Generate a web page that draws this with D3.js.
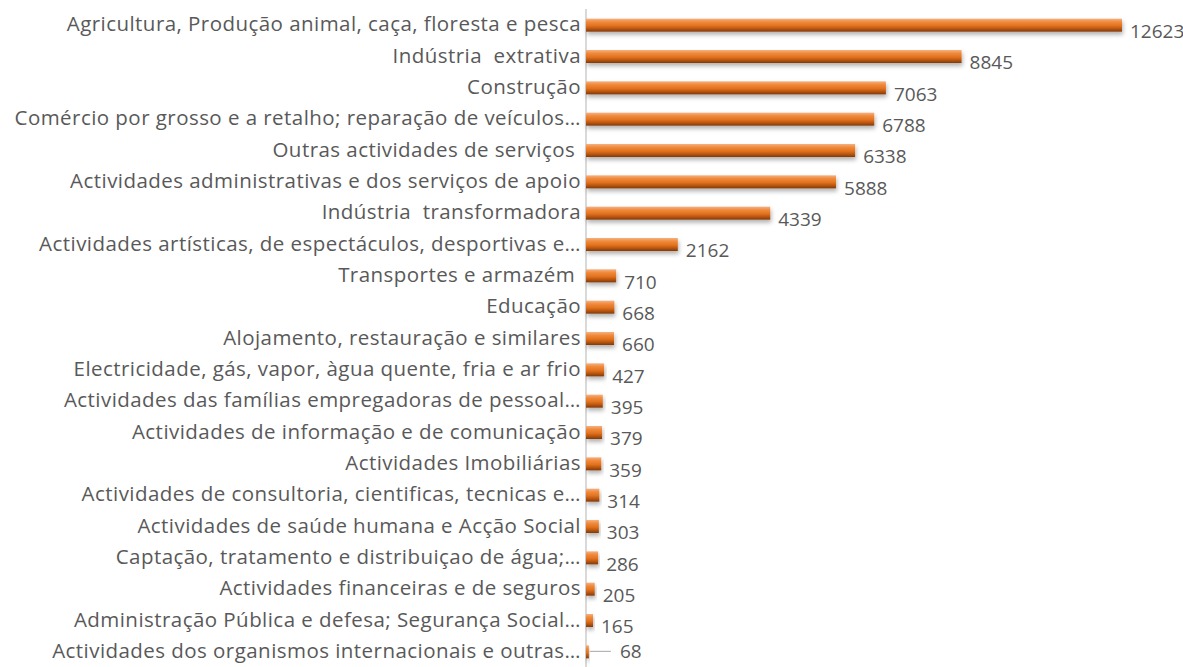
<!DOCTYPE html>
<html>
<head>
<meta charset="utf-8">
<script src="https://cdn.jsdelivr.net/npm/d3@7"></script>
<style>
  body { margin: 0; background: #fff; }
  text { font-family: "Open Sans", sans-serif; fill: #595959; white-space: pre; }
</style>
</head>
<body>
<svg id="chart" width="1183" height="667"></svg>
<script>
// sectors, top to bottom
var sectors = [
  "Agricultura, Produção animal, caça, floresta e pesca",
  "Indústria  extrativa",
  "Construção",
  "Comércio por grosso e a retalho; reparação de veículos…",
  "Outras actividades de serviços ",
  "Actividades administrativas e dos serviços de apoio",
  "Indústria  transformadora",
  "Actividades artísticas, de espectáculos, desportivas e…",
  "Transportes e armazém ",
  "Educação",
  "Alojamento, restauração e similares",
  "Electricidade, gás, vapor, àgua quente, fria e ar frio",
  "Actividades das famílias empregadoras de pessoal…",
  "Actividades de informação e de comunicação",
  "Actividades Imobiliárias",
  "Actividades de consultoria, cientificas, tecnicas e…",
  "Actividades de saúde humana e Acção Social",
  "Captação, tratamento e distribuiçao de água;…",
  "Actividades financeiras e de seguros",
  "Administração Pública e defesa; Segurança Social…",
  "Actividades dos organismos internacionais e outras…"
];
var values = [12623, 8845, 7063, 6788, 6338, 5888, 4339, 2162, 710, 668, 660, 427, 395, 379, 359, 314, 303, 286, 205, 165, 68];

var svg = d3.select('#chart');
var plotLeft = 586, plotTop = 9, plotBottom = 667;

var x = d3.scaleLinear().domain([0, 12623]).range([plotLeft, 1122]);
var y = d3.scaleBand().domain(sectors).range([plotTop, plotBottom]).paddingInner(0.6).paddingOuter(0.3);

var defs = svg.append('defs');
var grad = defs.append('linearGradient').attr('id', 'barGrad')
    .attr('x1', 0).attr('y1', 0).attr('x2', 0).attr('y2', 1);
grad.append('stop').attr('offset', '0%').attr('stop-color', '#f4b183');
grad.append('stop').attr('offset', '25%').attr('stop-color', '#f08a3c');
grad.append('stop').attr('offset', '55%').attr('stop-color', '#e2721f');
grad.append('stop').attr('offset', '78%').attr('stop-color', '#b85510');
grad.append('stop').attr('offset', '100%').attr('stop-color', '#7f3a0b');

var shadow = defs.append('filter').attr('id', 'shadow')
    .attr('x', '-5%').attr('y', '-50%').attr('width', '120%').attr('height', '250%');
shadow.append('feDropShadow').attr('dx', 1).attr('dy', 3).attr('stdDeviation', 2)
    .attr('flood-color', '#000').attr('flood-opacity', 0.3);

// axis line
svg.append('line')
    .attr('x1', plotLeft).attr('x2', plotLeft).attr('y1', plotTop).attr('y2', plotBottom)
    .attr('stroke', '#d9d9d9').attr('stroke-width', 2);

var rows = svg.selectAll('.row').data(sectors).enter().append('g').attr('class', 'row');

rows.append('rect')
    .attr('x', plotLeft)
    .attr('y', function(d) { return y(d) + y.bandwidth() / 2 - 6; })
    .attr('width', function(d, i) { return x(values[i]) - plotLeft; })
    .attr('height', 13)
    .attr('fill', 'url(#barGrad)')
    .attr('filter', 'url(#shadow)');

// category labels
rows.append('text')
    .attr('x', 581)
    .attr('y', function(d) { return y(d) + y.bandwidth() / 2; })
    .attr('dy', '0.33em')
    .attr('text-anchor', 'end')
    .attr('font-size', 20.5)
    .attr('letter-spacing', 0.45)
    .text(function(d) { return d; });

// value labels
rows.append('text')
    .attr('x', function(d, i) { return x(values[i]) + (values[i] < 100 ? 31 : 8); })
    .attr('y', function(d, i) { return y(d) + y.bandwidth() / 2 + (values[i] < 100 ? 0 : 7); })
    .attr('dy', '0.33em')
    .attr('font-size', 19)
    .text(function(d, i) { return values[i]; });

// leader line for the tiny bar
rows.filter(function(d, i) { return values[i] < 100; })
    .append('line')
    .attr('x1', function(d, i) { return x(68) + 1; })
    .attr('x2', function(d, i) { return x(68) + 22; })
    .attr('y1', function(d) { return y(d) + y.bandwidth() / 2; })
    .attr('y2', function(d) { return y(d) + y.bandwidth() / 2; })
    .attr('stroke', '#a6a6a6').attr('stroke-width', 1);
</script>
</body>
</html>
